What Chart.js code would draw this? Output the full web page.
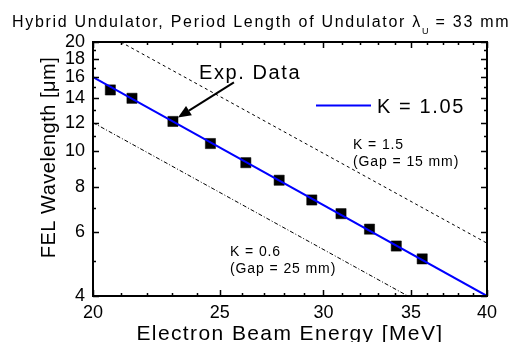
<!DOCTYPE html>
<html><head><meta charset="utf-8">
<script src="https://cdn.jsdelivr.net/npm/chart.js@4"></script>
<style>html,body{margin:0;padding:0;background:#fff;} #wrap{width:522px;height:342px;position:relative;}</style>
</head><body><div id="wrap"><canvas id="c" width="522" height="342"></canvas></div>
<script>
// ---- data ----
const energyMeV     = [20.62, 21.42, 23.02, 24.59, 26.17, 27.75, 29.39, 30.94, 32.53, 34.10, 35.69];
const wavelengthUm  = [14.76, 14.00, 12.09, 10.51, 9.31, 8.33, 7.35, 6.74, 6.11, 5.49, 5.06];
const k105Energy    = [20, 40];
const k105Wave      = [16, 4];
const k15Energy     = [21.0, 40];
const k15Wave       = [20, 5.59];
const k06Energy     = [20, 34.8];
const k06Wave       = [12.0, 4];
const xTickValues   = [20,21,22,23,24,25,26,27,28,29,30,31,32,33,34,35,36,37,38,39,40];
const xTickLabels   = [20,25,30,35,40];
const yTickValues   = [4,5,6,7,8,9,10,11,12,13,14,15,16,17,18,19,20];
const yTickLabels   = [4,6,8,10,12,14,16,18,20];

const FONT = "Arial, 'Liberation Sans', sans-serif";
const pts = (xs, ys) => xs.map((x, i) => ({x, y: ys[i]}));

const decor = {
  id: 'decor',
  afterDatasetsDraw(chart) {
    const ctx = chart.ctx, a = chart.chartArea;
    const xs = chart.scales.x, ys = chart.scales.y;
    ctx.save();
    // frame
    ctx.strokeStyle = '#000'; ctx.lineWidth = 2;
    ctx.strokeRect(a.left, a.top, a.right - a.left, a.bottom - a.top);
    // inward ticks
    ctx.lineWidth = 1.5;
    ctx.beginPath();
    xTickValues.forEach(v => {
      const px = Math.round(xs.getPixelForValue(v)) + 0.5;
      const len = xTickLabels.includes(v) ? 6 : 3;
      ctx.moveTo(px, a.bottom); ctx.lineTo(px, a.bottom - len);
      ctx.moveTo(px, a.top); ctx.lineTo(px, a.top + len);
    });
    yTickValues.forEach(v => {
      const py = Math.round(ys.getPixelForValue(v)) + 0.5;
      const len = yTickLabels.includes(v) ? 6 : 3;
      ctx.moveTo(a.left, py); ctx.lineTo(a.left + len, py);
      ctx.moveTo(a.right, py); ctx.lineTo(a.right - len, py);
    });
    ctx.stroke();

    // legend
    const ds = chart.data.datasets[0];
    ctx.strokeStyle = ds.borderColor; ctx.lineWidth = 2;
    ctx.beginPath(); ctx.moveTo(316, 105.5); ctx.lineTo(371, 105.5); ctx.stroke();
    ctx.fillStyle = '#000';
    ctx.textBaseline = 'alphabetic'; ctx.textAlign = 'left';
    ctx.font = '20px ' + FONT; ctx.letterSpacing = '1.6px';
    ctx.fillText(ds.label, 377, 113);

    // annotations
    ctx.fillText('Exp. Data', 199, 79);
    ctx.font = '14px ' + FONT; ctx.letterSpacing = '0.9px';
    ctx.fillText('K = 1.5', 353, 148.5);
    ctx.fillText('(Gap = 15 mm)', 353, 165.5);
    ctx.fillText('K = 0.6', 230, 255.5);
    ctx.fillText('(Gap = 25 mm)', 230, 272.5);

    // arrow to the data point
    const tipX = xs.getPixelForValue(energyMeV[2]) + 5;
    const tipY = ys.getPixelForValue(wavelengthUm[2]) - 4;
    const tailX = tipX + 56, tailY = tipY - 35;
    const ang = Math.atan2(tipY - tailY, tipX - tailX);
    const hl = 13, hw = 5.5;
    const bx = tipX - hl * Math.cos(ang), by = tipY - hl * Math.sin(ang);
    ctx.strokeStyle = '#000'; ctx.lineWidth = 2;
    ctx.beginPath(); ctx.moveTo(tailX, tailY); ctx.lineTo(bx, by); ctx.stroke();
    ctx.beginPath();
    ctx.moveTo(tipX, tipY);
    ctx.lineTo(bx + hw * Math.sin(ang), by - hw * Math.cos(ang));
    ctx.lineTo(bx - hw * Math.sin(ang), by + hw * Math.cos(ang));
    ctx.closePath(); ctx.fill();
    ctx.restore();
  },
  afterDraw(chart) {
    const ctx = chart.ctx, a = chart.chartArea;
    ctx.save();
    ctx.fillStyle = '#000'; ctx.textBaseline = 'alphabetic'; ctx.textAlign = 'left';
    // title with subscript
    ctx.font = '16px ' + FONT; ctx.letterSpacing = '1.7px';
    let x = 12;
    const t1 = 'Hybrid Undulator, Period Length of Undulator \u03bb';
    ctx.fillText(t1, x, 27); x += ctx.measureText(t1).width;
    ctx.font = '9px ' + FONT; ctx.letterSpacing = '0px';
    ctx.fillText('U', x, 34); x += ctx.measureText('U').width + 1;
    ctx.font = '16px ' + FONT; ctx.letterSpacing = '1.7px';
    ctx.fillText(' = 33 mm', x, 27);
    // x title
    ctx.font = '21px ' + FONT; ctx.letterSpacing = '1.4px';
    ctx.textAlign = 'center';
    ctx.fillText('Electron Beam Energy [MeV]', (a.left + a.right) / 2, 340);
    // y title
    ctx.font = '20px ' + FONT; ctx.letterSpacing = '0.5px';
    ctx.translate(55, 157.5); ctx.rotate(-Math.PI / 2);
    ctx.fillText('FEL Wavelength [\u03bcm]', 0, 0);
    ctx.restore();
  }
};

new Chart(document.getElementById('c'), {
  type: 'scatter',
  data: {
    datasets: [
      { label: 'K = 1.05', type: 'line', data: pts(k105Energy, k105Wave),
        borderColor: '#0000ff', borderWidth: 2, pointRadius: 0, fill: false },
      { label: 'Exp. Data', data: pts(energyMeV, wavelengthUm), pointStyle: 'rect',
        pointRadius: 7.2, backgroundColor: '#000', borderColor: 'rgba(0,0,0,0.5)', borderWidth: 1 },
      { label: 'K = 1.5', type: 'line', data: pts(k15Energy, k15Wave),
        borderColor: '#000', borderWidth: 1, borderDash: [3, 3], pointRadius: 0, fill: false },
      { label: 'K = 0.6', type: 'line', data: pts(k06Energy, k06Wave),
        borderColor: '#000', borderWidth: 1, borderDash: [4, 2, 1, 2], pointRadius: 0, fill: false }
    ]
  },
  options: {
    responsive: false, animation: false, devicePixelRatio: 1,
    layout: { padding: { top: 42, right: 35, bottom: 0, left: 0 } },
    plugins: { legend: { display: false }, tooltip: { enabled: false }, title: { display: false } },
    scales: {
      x: {
        type: 'logarithmic', min: 20, max: 40,
        afterBuildTicks: s => { s.ticks = xTickValues.map(v => ({ value: v })); },
        afterFit: s => { s.height = 46; },
        grid: { display: false, drawTicks: false }, border: { display: false },
        ticks: { autoSkip: false, maxRotation: 0, padding: 6, color: '#000',
          font: { family: FONT, size: 18 },
          callback: v => xTickLabels.includes(v) ? String(v) : '' }
      },
      y: {
        type: 'logarithmic', min: 4, max: 20,
        afterBuildTicks: s => { s.ticks = yTickValues.map(v => ({ value: v })); },
        afterFit: s => { s.width = 93; },
        grid: { display: false, drawTicks: false }, border: { display: false },
        ticks: { autoSkip: false, padding: 8, color: '#000',
          font: { family: FONT, size: 18 },
          callback: v => yTickLabels.includes(v) ? String(v) : '' }
      }
    }
  },
  plugins: [decor]
});
</script>
</body></html>
